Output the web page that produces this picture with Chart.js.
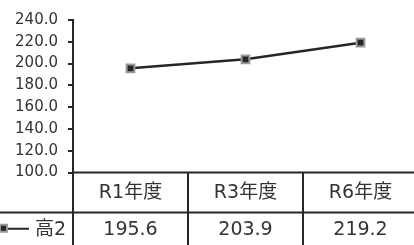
<!DOCTYPE html>
<html>
<head>
<meta charset="utf-8">
<script src="https://cdn.jsdelivr.net/npm/chart.js@4/dist/chart.umd.min.js"></script>
<style>
  html, body { margin: 0; padding: 0; background: #fff; overflow: hidden; }
  #wrap { width: 420px; height: 245px; position: relative; }
</style>
</head>
<body>
<div id="wrap"><canvas id="lineChart" width="420" height="245"></canvas></div>
<script>
// data
const categories = ["R1年度", "R3年度", "R6年度"];
const seriesName = "高2";
const seriesValues = [195.6, 203.9, 219.2];
const yMin = 100, yMax = 240, yStep = 20;

const FONT = '"DejaVu Sans", "Noto Sans CJK JP", sans-serif';
const INK = '#262626';
const TEXT = '#333333';

// draws the data table under the plot
const dataTable = {
    id: 'dataTable',
    afterDraw(chart) {
        const ctx = chart.ctx;
        const area = chart.chartArea;
        const xs = chart.scales.x;
        const W = chart.width, H = chart.height;
        const colW = (area.right - area.left) / categories.length;
        const row2 = Math.round(area.bottom + 39) + 0.5;

        ctx.save();
        ctx.strokeStyle = INK;
        ctx.lineWidth = 2;
        ctx.beginPath();
        ctx.moveTo(area.left, area.bottom);
        ctx.lineTo(W, area.bottom);
        ctx.moveTo(0, row2);
        ctx.lineTo(W, row2);
        for (let i = 0; i <= categories.length; i++) {
            const x = Math.round(area.left + i * colW);
            ctx.moveTo(x, area.bottom);
            ctx.lineTo(x, H);
        }
        ctx.stroke();

        ctx.fillStyle = TEXT;
        ctx.font = '19px ' + FONT;
        ctx.textAlign = 'center';
        ctx.textBaseline = 'middle';
        const yCat = (area.bottom + row2) / 2 + 1;
        const yVal = (row2 + H) / 2 + 1;
        categories.forEach((c, i) => {
            const x = xs.getPixelForValue(i);
            ctx.fillText(c, x, yCat);
            ctx.fillText(seriesValues[i].toFixed(1), x, yVal);
        });

        // legend key
        ctx.strokeStyle = INK;
        ctx.lineWidth = 2;
        ctx.beginPath();
        ctx.moveTo(2, yVal - 1);
        ctx.lineTo(29, yVal - 1);
        ctx.stroke();
        ctx.fillStyle = INK;
        ctx.strokeStyle = '#999999';
        ctx.lineWidth = 2;
        ctx.beginPath();
        ctx.rect(0, yVal - 5, 7, 7);
        ctx.fill();
        ctx.stroke();
        ctx.fillStyle = TEXT;
        ctx.textAlign = 'left';
        ctx.fillText(seriesName, 35, yVal);
        ctx.restore();
    }
};

const canvas = document.getElementById('lineChart');

new Chart(canvas, {
    type: 'line',
    data: {
        labels: categories,
        datasets: [{
            label: seriesName,
            data: seriesValues,
            borderColor: INK,
            borderWidth: 2.5,
            pointStyle: 'rect',
            pointRadius: 5.5,
            pointBorderWidth: 2,
            pointBackgroundColor: INK,
            pointBorderColor: '#9a9a9a',
            tension: 0
        }]
    },
    options: {
        responsive: false,
        animation: false,
        layout: { autoPadding: false, padding: { top: 20, bottom: 72.5, left: 0, right: 2 } },
        plugins: {
            legend: { display: false },
            tooltip: { enabled: false }
        },
        scales: {
            x: {
                display: false,
                offset: true
            },
            y: {
                min: yMin,
                max: yMax,
                afterFit: (scale) => { scale.width = 73; },
                ticks: {
                    stepSize: yStep,
                    padding: 10,
                    color: TEXT,
                    font: { family: FONT, size: 15 },
                    callback: (v) => Number(v).toFixed(1)
                },
                grid: {
                    drawOnChartArea: false,
                    drawTicks: true,
                    tickLength: 5,
                    color: INK,
                    lineWidth: 2
                },
                border: { display: true, color: INK, width: 2 }
            }
        }
    },
    plugins: [dataTable]
});
</script>
</body>
</html>
